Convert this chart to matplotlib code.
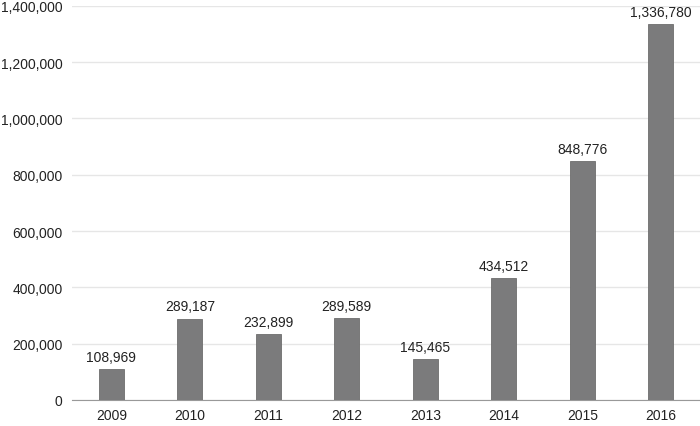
import matplotlib
matplotlib.use('Agg')
import matplotlib.pyplot as plt
from matplotlib.ticker import FuncFormatter

years = ['2009', '2010', '2011', '2012', '2013', '2014', '2015', '2016']
values = [108969, 289187, 232899, 289589, 145465, 434512, 848776, 1336780]

plt.rcParams['font.family'] = ['Liberation Sans', 'DejaVu Sans']

fig = plt.figure(figsize=(7, 4.27), dpi=100)
ax = fig.add_axes([0.103, 0.061, 0.897, 0.923])

x = list(range(len(years)))
ax.bar(x, values, width=0.32, color='#7b7b7c', edgecolor='#6e6e6e', linewidth=0.6, zorder=3)
for xi, v in zip(x, values):
    ax.text(xi, v + 18000, f'{v:,}', ha='center', va='bottom', fontsize=10, color='#222222')

ax.set_xlim(-0.5, len(years) - 0.5)
ax.set_ylim(0, 1400000)
ax.set_yticks(range(0, 1400001, 200000))
ax.yaxis.set_major_formatter(FuncFormatter(lambda v, p: f'{int(v):,}'))
ax.set_xticks(x)
ax.set_xticklabels(years)
ax.grid(axis='y', color='#e6e6e6', linewidth=1, zorder=0)
for s in ['top', 'right', 'left']:
    ax.spines[s].set_visible(False)
ax.spines['bottom'].set_color('#999999')
ax.tick_params(axis='both', length=0, labelsize=10, colors='#222222')
ax.tick_params(axis='y', pad=7)
ax.tick_params(axis='x', pad=6)

fig.savefig('out.png', dpi=100)
